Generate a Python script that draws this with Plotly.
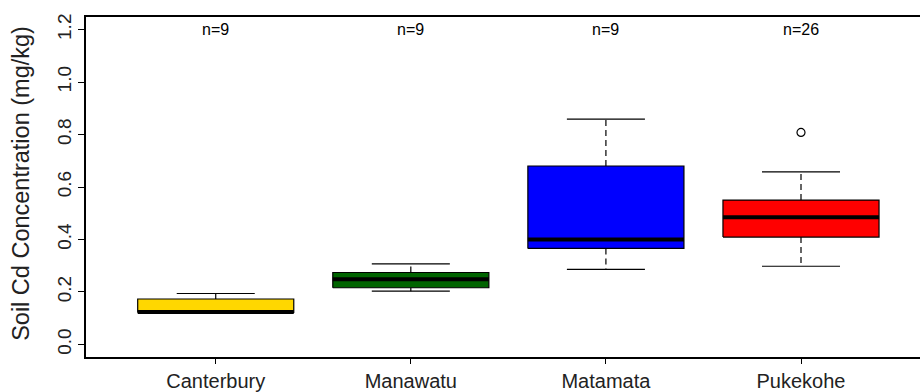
import plotly.graph_objects as go

# ---- data ----
categories = ["Canterbury", "Manawatu", "Matamata", "Pukekohe"]
n_labels = ["n=9", "n=9", "n=9", "n=26"]
lower_whisker = [0.122, 0.203, 0.286, 0.298]
q1_values = [0.122, 0.216, 0.366, 0.409]
median_values = [0.124, 0.248, 0.400, 0.485]
q3_values = [0.173, 0.274, 0.680, 0.550]
upper_whisker = [0.194, 0.307, 0.859, 0.658]
outlier_category = ["Pukekohe"]
outlier_values = [0.808]
box_colors = ["#FFD700", "#006400", "#0000FF", "#FF0000"]
y_ticks = [0.0, 0.2, 0.4, 0.6, 0.8, 1.0, 1.2]
y_title = "Soil Cd Concentration (mg/kg)"
n_label_y = 1.2

FONT = "Liberation Sans, Arial, sans-serif"
HALF_BOX = 0.4
HALF_STAPLE = 0.2

fig = go.Figure()
pos = {c: i + 1 for i, c in enumerate(categories)}

for i, cat in enumerate(categories):
    x = pos[cat]
    # dashed whiskers
    fig.add_trace(go.Scatter(
        x=[x, x, None, x, x],
        y=[q3_values[i], upper_whisker[i], None, q1_values[i], lower_whisker[i]],
        mode="lines", line=dict(color="black", width=1.2, dash="6px,4px"),
        hoverinfo="skip", showlegend=False))
    # staples
    fig.add_trace(go.Scatter(
        x=[x - HALF_STAPLE, x + HALF_STAPLE, None, x - HALF_STAPLE, x + HALF_STAPLE],
        y=[upper_whisker[i], upper_whisker[i], None, lower_whisker[i], lower_whisker[i]],
        mode="lines", line=dict(color="black", width=1.2),
        hoverinfo="skip", showlegend=False))
    # box
    fig.add_trace(go.Scatter(
        x=[x - HALF_BOX, x + HALF_BOX, x + HALF_BOX, x - HALF_BOX, x - HALF_BOX],
        y=[q1_values[i], q1_values[i], q3_values[i], q3_values[i], q1_values[i]],
        mode="lines", fill="toself", fillcolor=box_colors[i],
        line=dict(color="black", width=1.2),
        hoverinfo="skip", showlegend=False))
    # median
    fig.add_trace(go.Scatter(
        x=[x - HALF_BOX, x + HALF_BOX],
        y=[median_values[i], median_values[i]],
        mode="lines", line=dict(color="black", width=4),
        hoverinfo="skip", showlegend=False))

# outliers
fig.add_trace(go.Scatter(
    x=[pos[c] for c in outlier_category], y=outlier_values,
    mode="markers",
    marker=dict(symbol="circle-open", size=8, color="black", line=dict(width=1.2)),
    hoverinfo="skip", showlegend=False))

# n labels
for cat, lab in zip(categories, n_labels):
    fig.add_annotation(x=pos[cat], y=n_label_y, text=lab, showarrow=False,
                       xanchor="center", yanchor="middle",
                       font=dict(family=FONT, size=16, color="black"))

# y title
fig.add_annotation(xref="paper", yref="paper", x=-0.078, y=0.512,
                   text=y_title, textangle=-90, showarrow=False,
                   xanchor="center", yanchor="middle",
                   font=dict(family=FONT, size=23.5, color="#222222"))

fig.update_layout(
    width=920, height=392,
    margin=dict(l=86, r=0, t=17, b=35, autoexpand=False),
    paper_bgcolor="white", plot_bgcolor="white",
    xaxis=dict(range=[0.335, 4.61], tickmode="array", automargin=False,
               tickvals=[pos[c] for c in categories], ticktext=categories,
               showgrid=False, zeroline=False, showline=True, mirror=True,
               linecolor="black", linewidth=1.5,
               ticks="outside", ticklen=5, tickwidth=1.2, tickcolor="black",
               ticklabelstandoff=0,
               tickfont=dict(family=FONT, size=20, color="#222222")),
    yaxis=dict(range=[-0.048, 1.248], tickmode="array", tickvals=y_ticks,
               automargin=False,
               ticktext=[f"{v:.1f}" for v in y_ticks], tickangle=-90,
               showgrid=False, zeroline=False, showline=True, mirror=False,
               linecolor="black", linewidth=1.5,
               ticks="outside", ticklen=6, tickwidth=1.2, tickcolor="black",
               tickfont=dict(family=FONT, size=19, color="#222222")),
)

fig.write_html("out.html", config={"displayModeBar": False},
               post_script="document.body.style.margin='0px';document.body.style.overflow='hidden';")
